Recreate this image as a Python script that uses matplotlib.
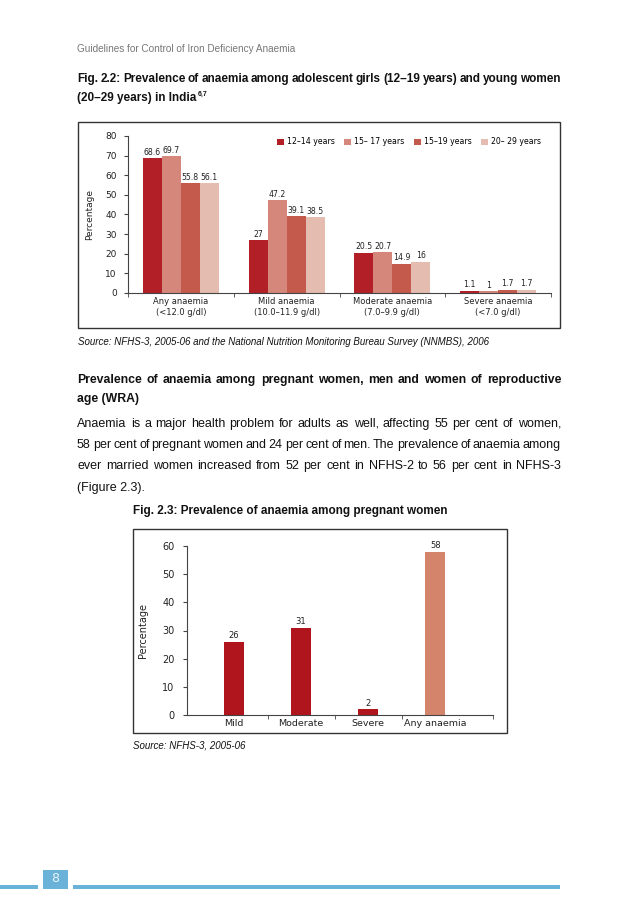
import matplotlib as mpl
mpl.use('Agg')
import numpy as np
import matplotlib.pyplot as plt
from matplotlib.patches import Rectangle

W, H = 639, 909

# ---- data: Fig 2.2
cats1 = ['Any anaemia\n(<12.0 g/dl)', 'Mild anaemia\n(10.0–11.9 g/dl)',
         'Moderate anaemia\n(7.0–9.9 g/dl)', 'Severe anaemia\n(<7.0 g/dl)']
groups = ['12–14 years', '15– 17 years', '15–19 years', '20– 29 years']
v_12_14 = [68.6, 27, 20.5, 1.1]
v_15_17 = [69.7, 47.2, 20.7, 1]
v_15_19 = [55.8, 39.1, 14.9, 1.7]
v_20_29 = [56.1, 38.5, 16, 1.7]
colors1 = ['#b21f27', '#d4877a', '#c35a4c', '#e5bcb0']

# ---- data: Fig 2.3
cats2 = ['Mild', 'Moderate', 'Severe', 'Any anaemia']
vals2 = [26, 31, 2, 58]
colors2 = ['#b0151d', '#b0151d', '#b0151d', '#d5846c']

plt.rcParams['font.family'] = ['Liberation Sans', 'DejaVu Sans']

fig = plt.figure(figsize=(W / 100, H / 100), dpi=100)
fig.patch.set_facecolor('white')


def fx(x):
    return x / W


def fy(y):
    return 1 - y / H


def frame(x0, y0, x1, y1):
    fig.add_artist(Rectangle((fx(x0), fy(y1)), fx(x1 - x0), (y1 - y0) / H,
                             transform=fig.transFigure, fill=False,
                             edgecolor='#333333', lw=1.0))


renderer = fig.canvas.get_renderer()


def justify(text, y, x0=77, x1=561, **kw):
    # spread the words so the line runs from x0 to x1
    words = text.split()
    objs = [fig.text(fx(x0), fy(y), w, va='center', ha='left', **kw) for w in words]
    widths = [o.get_window_extent(renderer).width for o in objs]
    gap = (x1 - x0 - sum(widths)) / (len(words) - 1)
    x = x0
    for o, wd in zip(objs, widths):
        o.set_x(fx(x))
        x += wd + gap


# ---- page text
fig.text(fx(77), fy(49), 'Guidelines for Control of Iron Deficiency Anaemia',
         fontsize=7.2, color='#777777', va='center')
justify('Fig. 2.2: Prevalence of anaemia among adolescent girls (12–19 years) and young women',
        79, fontsize=8.5, fontweight='bold', color='#111111')
t2 = fig.text(fx(77), fy(98), '(20–29 years) in India', fontsize=8.5, fontweight='bold',
              color='#111111', va='center')
ext = t2.get_window_extent(renderer)
fig.text(fx(ext.x1 + 1), fy(94), '6,7', fontsize=5, fontweight='bold',
         color='#111111', va='center')

fig.text(fx(78), fy(342),
         'Source: NFHS-3, 2005-06 and the National Nutrition Monitoring Bureau Survey (NNMBS), 2006',
         fontsize=7, style='italic', color='#111111', va='center')

justify('Prevalence of anaemia among pregnant women, men and women of reproductive',
        380, fontsize=8.8, fontweight='bold', color='#111111')
fig.text(fx(77), fy(399), 'age (WRA)', fontsize=8.8, fontweight='bold',
         color='#111111', va='center')

justify('Anaemia is a major health problem for adults as well, affecting 55 per cent of women,',
        424, fontsize=9.0, color='#111111')
justify('58 per cent of pregnant women and 24 per cent of men. The prevalence of anaemia among',
        445, fontsize=9.0, color='#111111')
justify('ever married women increased from 52 per cent in NFHS-2 to 56 per cent in NFHS-3',
        466, fontsize=9.0, color='#111111')
fig.text(fx(77), fy(488), '(Figure 2.3).', fontsize=9.0, color='#111111', va='center')

fig.text(fx(133), fy(511), 'Fig. 2.3: Prevalence of anaemia among pregnant women',
         fontsize=8.5, fontweight='bold', color='#111111', va='center')
fig.text(fx(133), fy(745), 'Source: NFHS-3, 2005-06', fontsize=7, style='italic',
         color='#111111', va='center')

# ---- Fig 2.2 chart
frame(78, 122, 560, 328)
ax1 = fig.add_axes([fx(128), fy(293), fx(551 - 128), (293 - 136) / H])
x = np.arange(len(cats1))
bw = 0.18
series = [v_12_14, v_15_17, v_15_19, v_20_29]
for i, (vals, c, lab) in enumerate(zip(series, colors1, groups)):
    bars = ax1.bar(x + (i - 1.5) * bw, vals, bw, color=c, label=lab, linewidth=0)
    ax1.bar_label(bars, labels=[f'{v:g}' for v in vals], padding=1,
                  fontsize=5.6, family='DejaVu Sans', color='#222222')
ax1.set_xlim(-0.5, 3.5)
ax1.set_ylim(0, 80)
ax1.set_yticks(range(0, 81, 10))
ax1.set_xticks(x)
ax1.set_xticklabels(cats1, fontsize=6, family='DejaVu Sans', color='#222222',
                    linespacing=1.3)
ax1.set_xticks(np.arange(-0.5, 3.6, 1), minor=True)
ax1.tick_params(axis='x', which='major', length=0, pad=3)
ax1.tick_params(axis='x', which='minor', length=3, direction='out', color='#444444')
ax1.tick_params(axis='y', length=3, color='#444444', labelsize=6.5, pad=5,
                labelcolor='#222222')
for lbl in ax1.get_yticklabels():
    lbl.set_family('DejaVu Sans')
for s in ['top', 'right']:
    ax1.spines[s].set_visible(False)
for s in ['left', 'bottom']:
    ax1.spines[s].set_color('#444444')
    ax1.spines[s].set_linewidth(0.8)
ax1.set_ylabel('Percentage', fontsize=6.5, family='DejaVu Sans', color='#222222',
               labelpad=8)
ax1.legend(loc='center', bbox_to_anchor=(fx(409), fy(142)),
           bbox_transform=fig.transFigure, ncol=4, frameon=False,
           prop={'family': 'DejaVu Sans', 'size': 5.6}, handlelength=0.9,
           handleheight=0.9, handletextpad=0.4, columnspacing=1.2)

# ---- Fig 2.3 chart
frame(133, 529, 507, 733)
ax2 = fig.add_axes([fx(187), fy(715), fx(493 - 187), (715 - 546) / H])
x2 = np.arange(len(cats2))
bars2 = ax2.bar(x2, vals2, 0.3, color=colors2, linewidth=0)
ax2.bar_label(bars2, padding=1, fontsize=6, family='DejaVu Sans', color='#222222')
ax2.set_xlim(-0.70, 3.86)
ax2.set_ylim(0, 60)
ax2.set_yticks(range(0, 61, 10))
ax2.set_xticks(x2)
ax2.set_xticklabels(cats2, fontsize=6.8, family='DejaVu Sans', color='#222222')
ax2.set_xticks([0.5, 1.5, 2.5, 3.86], minor=True)
ax2.tick_params(axis='x', which='major', length=0, pad=3)
ax2.tick_params(axis='x', which='minor', length=3, direction='out', color='#444444')
ax2.tick_params(axis='y', length=3, color='#444444', labelsize=7, pad=6,
                labelcolor='#222222')
for lbl in ax2.get_yticklabels():
    lbl.set_family('DejaVu Sans')
for s in ['top', 'right']:
    ax2.spines[s].set_visible(False)
for s in ['left', 'bottom']:
    ax2.spines[s].set_color('#444444')
    ax2.spines[s].set_linewidth(0.8)
ax2.set_ylabel('Percentage', fontsize=7, family='DejaVu Sans', color='#222222',
               labelpad=10)

# ---- footer
blue = '#6ab2d8'
fig.add_artist(Rectangle((0, fy(889)), fx(38), 4.5 / H, transform=fig.transFigure,
                         color=blue, lw=0))
fig.add_artist(Rectangle((fx(43), fy(889)), fx(25), 19 / H, transform=fig.transFigure,
                         color=blue, lw=0))
fig.add_artist(Rectangle((fx(73), fy(889)), fx(560 - 73), 4.5 / H, transform=fig.transFigure,
                         color=blue, lw=0))
fig.text(fx(55.5), fy(879), '8', fontsize=9, color='#e8f4fb', ha='center', va='center',
         family='DejaVu Sans')

fig.savefig('out.png', dpi=100, facecolor='white')
plt.close(fig)
